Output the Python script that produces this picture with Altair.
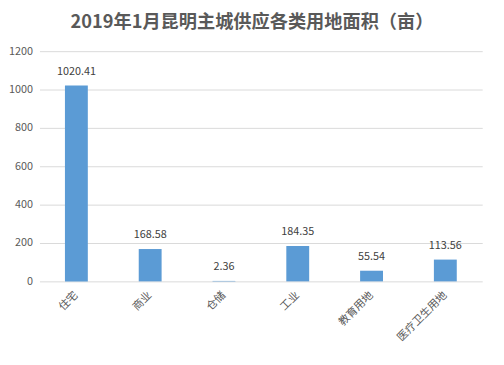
import altair as alt
import pandas as pd

categories = ["住宅", "商业", "仓储", "工业", "教育用地", "医疗卫生用地"]
values = [1020.41, 168.58, 2.36, 184.35, 55.54, 113.56]
labels = ["1020.41", "168.58", "2.36", "184.35", "55.54", "113.56"]
y_ticks = [0, 200, 400, 600, 800, 1000, 1200]

df = pd.DataFrame({"cat": categories, "val": values, "lab": labels})

FONT = "Noto Sans CJK SC"

base = alt.Chart(df).encode(
    x=alt.X("cat:N", sort=categories, title=None,
            scale=alt.Scale(paddingInner=0.69, paddingOuter=0.345),
            axis=alt.Axis(labelAngle=-45, labelAlign="right", labelBaseline="middle",
                          labelPadding=12, ticks=False, domain=False,
                          labelFont=FONT, labelFontSize=11, labelColor="#595959",
                          labelLimit=200)),
    y=alt.Y("val:Q", title=None,
            scale=alt.Scale(domain=[0, 1200], nice=False),
            axis=alt.Axis(values=y_ticks, ticks=False, format="d",
                          domain=False, grid=True, gridColor="#d9d9d9",
                          labelOverlap=False, labelFlush=False,
                          labelFont=FONT, labelFontSize=11, labelColor="#595959",
                          labelPadding=7)),
)

bars = base.mark_bar(color="#5B9BD5")

text = base.mark_text(baseline="bottom", dy=-9, font=FONT, fontSize=11,
                      color="#404040").encode(text="lab:N")

chart = (bars + text).properties(
    width=450, height=234,
    autosize=alt.AutoSizeParams(type="none"),
    padding={"left": 32, "top": 41, "right": 14, "bottom": 74},
    title=alt.TitleParams("2019年1月昆明主城供应各类用地面积（亩）", font=FONT,
                          fontSize=18.5, fontWeight="bold", color="#595959",
                          anchor="middle", offset=14, dx=-9),
).configure_view(stroke=None)

chart.save("out.html", embed_options={"renderer": "svg", "actions": False})
